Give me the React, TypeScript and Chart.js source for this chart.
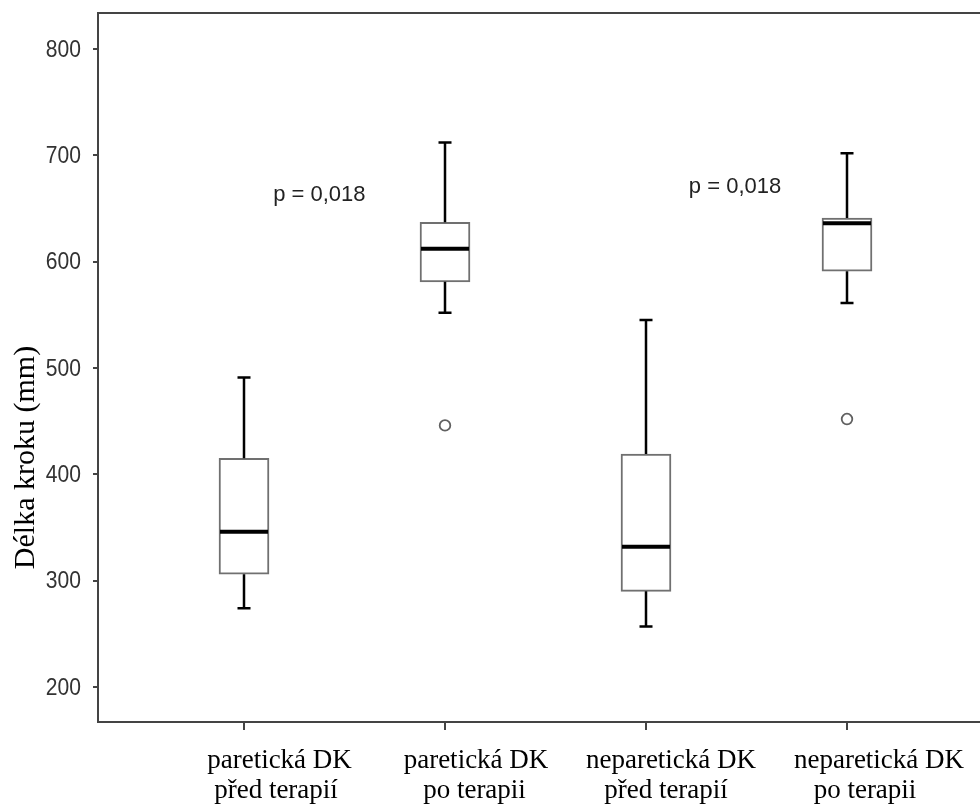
import React, { useEffect, useRef } from "react";
import { Chart, registerables } from "chart.js";

Chart.register(...registerables);

// ---- data ----
const categories: string[][] = [
  ["paretická DK", "před terapií"],
  ["paretická DK", "po terapii"],
  ["neparetická DK", "před terapií"],
  ["neparetická DK", "po terapii"],
];
const categoryPos = [1, 2, 3, 4];
const whiskerLow = [274, 552, 257, 561];
const q1 = [306, 581, 290, 591];
const median = [346, 612, 332, 636];
const q3 = [415, 637, 419, 641];
const whiskerHigh = [491, 712, 545, 702];
const outliers: number[][] = [[], [446], [], [452]];
const yTickValues = [200, 300, 400, 500, 600, 700, 800];
const pLabels = ["p = 0,018", "p = 0,018"];
const pLabelX = [1.375, 3.443];
const pLabelY = [663, 670];
const yTitle = "Délka kroku (mm)";

// label placement (pixel shifts of each category label line from its tick)
const LABEL_SHIFT_LINE1 = [35.5, 31, 25, 32];
const LABEL_SHIFT_LINE2 = [32, 29.5, 20, 18];

const AXIS_COLOR = "#444444";
const SANS = "'Liberation Sans', Arial, sans-serif";
const SERIF = "'Liberation Serif', 'Times New Roman', serif";

export default function App() {
  const ref = useRef<HTMLCanvasElement | null>(null);

  useEffect(() => {
    const canvas = ref.current;
    if (!canvas) return;
    document.body.style.margin = "0";

    const boxPlugin = {
      id: "boxExtras",
      afterDatasetsDraw(chart: any) {
        const { ctx, scales } = chart;
        const xs = scales.x;
        const ys = scales.y;
        ctx.save();
        const half = 25;
        const cap = 6.5;
        for (let i = 0; i < categoryPos.length; i++) {
          const cx = Math.round(xs.getPixelForValue(categoryPos[i]));
          ctx.strokeStyle = "#000";
          ctx.lineWidth = 2.5;
          ctx.beginPath();
          ctx.moveTo(cx, ys.getPixelForValue(q3[i]));
          ctx.lineTo(cx, ys.getPixelForValue(whiskerHigh[i]));
          ctx.moveTo(cx, ys.getPixelForValue(q1[i]));
          ctx.lineTo(cx, ys.getPixelForValue(whiskerLow[i]));
          ctx.stroke();
          ctx.beginPath();
          const yh = ys.getPixelForValue(whiskerHigh[i]);
          const yl = ys.getPixelForValue(whiskerLow[i]);
          ctx.moveTo(cx - cap, yh);
          ctx.lineTo(cx + cap, yh);
          ctx.moveTo(cx - cap, yl);
          ctx.lineTo(cx + cap, yl);
          ctx.stroke();
          ctx.lineWidth = 4;
          ctx.beginPath();
          const ym = ys.getPixelForValue(median[i]);
          ctx.moveTo(cx - half + 1, ym);
          ctx.lineTo(cx + half - 1, ym);
          ctx.stroke();
        }
        ctx.restore();
      },
      afterDraw(chart: any) {
        const { ctx, scales, chartArea } = chart;
        const xs = scales.x;
        const ys = scales.y;
        ctx.save();
        // top frame line
        ctx.strokeStyle = AXIS_COLOR;
        ctx.lineWidth = 2;
        ctx.beginPath();
        ctx.moveTo(chartArea.left - 1, chartArea.top);
        ctx.lineTo(chartArea.right, chartArea.top);
        ctx.stroke();

        // y tick labels (narrow sans)
        ctx.fillStyle = "#333";
        ctx.font = `24.5px ${SANS}`;
        ctx.textAlign = "right";
        ctx.textBaseline = "middle";
        for (const v of yTickValues) {
          const py = ys.getPixelForValue(v) + 1;
          ctx.save();
          ctx.translate(chartArea.left - 17, py);
          ctx.scale(0.86, 1);
          ctx.fillText(String(v), 0, 0);
          ctx.restore();
        }

        // x category labels
        ctx.fillStyle = "#000";
        ctx.font = `27px ${SERIF}`;
        ctx.textAlign = "center";
        ctx.textBaseline = "alphabetic";
        for (let i = 0; i < categoryPos.length; i++) {
          const px = xs.getPixelForValue(categoryPos[i]);
          ctx.fillText(categories[i][0], px + LABEL_SHIFT_LINE1[i], chartArea.bottom + 46);
          ctx.fillText(categories[i][1], px + LABEL_SHIFT_LINE2[i], chartArea.bottom + 75.5);
        }

        // p labels
        ctx.fillStyle = "#222";
        ctx.font = `22px ${SANS}`;
        ctx.textAlign = "center";
        ctx.textBaseline = "middle";
        for (let i = 0; i < pLabels.length; i++) {
          ctx.fillText(pLabels[i], xs.getPixelForValue(pLabelX[i]), ys.getPixelForValue(pLabelY[i]));
        }

        // y title
        ctx.fillStyle = "#000";
        ctx.font = `30px ${SERIF}`;
        ctx.translate(26.5, 457.5);
        ctx.rotate(-Math.PI / 2);
        ctx.textAlign = "center";
        ctx.textBaseline = "middle";
        ctx.fillText(yTitle, 0, 0);
        ctx.restore();
      },
    };

    const chart = new Chart(canvas, {
      type: "bar",
      data: {
        datasets: [
          {
            type: "bar",
            data: categoryPos.map((x, i) => ({ x, y: [q1[i], q3[i]] })) as any,
            backgroundColor: "#ffffff",
            borderColor: "#707070",
            borderWidth: 2,
            borderSkipped: false,
            barThickness: 50,
            order: 2,
          } as any,
          {
            type: "scatter",
            data: outliers.flatMap((arr, i) => arr.map((v) => ({ x: categoryPos[i], y: v }))),
            pointStyle: "circle",
            pointRadius: 5.3,
            pointBorderWidth: 1.8,
            pointBorderColor: "#606060",
            pointBackgroundColor: "#ffffff",
            order: 1,
          } as any,
        ],
      },
      options: {
        responsive: false,
        animation: false,
        devicePixelRatio: 1,
        layout: { autoPadding: false, padding: { top: 13, left: 0, right: 0, bottom: 0 } },
        plugins: {
          legend: { display: false },
          tooltip: { enabled: false },
        },
        scales: {
          x: {
            type: "linear",
            min: 0.2736,
            max: 4.6617,
            offset: false,
            afterFit(scale: any) {
              scale.height = 83;
              scale.paddingLeft = 0;
              scale.paddingRight = 0;
            },
            afterBuildTicks(scale: any) {
              scale.ticks = categoryPos.map((v) => ({ value: v }));
            },
            border: { display: true, color: AXIS_COLOR, width: 2 },
            grid: {
              display: true,
              offset: false,
              drawOnChartArea: false,
              drawTicks: true,
              tickLength: 8,
              color: AXIS_COLOR,
              lineWidth: 2,
            },
            ticks: { display: false },
          },
          y: {
            type: "linear",
            min: 167.1,
            max: 833.8,
            afterFit(scale: any) {
              scale.width = 98;
              scale.paddingTop = 0;
              scale.paddingBottom = 0;
            },
            afterBuildTicks(scale: any) {
              scale.ticks = yTickValues.map((v) => ({ value: v }));
            },
            border: { display: true, color: AXIS_COLOR, width: 2 },
            grid: {
              display: true,
              drawOnChartArea: false,
              drawTicks: true,
              tickLength: 5,
              color: AXIS_COLOR,
              lineWidth: 2,
            },
            ticks: { display: false },
          },
        },
      },
      plugins: [boxPlugin],
    } as any);

    return () => {
      chart.destroy();
    };
  }, []);

  return (
    <div style={{ position: "absolute", left: 0, top: 0, width: 980, height: 805, background: "#fff" }}>
      <canvas ref={ref} width={980} height={805} style={{ display: "block", width: 980, height: 805 }} />
    </div>
  );
}
